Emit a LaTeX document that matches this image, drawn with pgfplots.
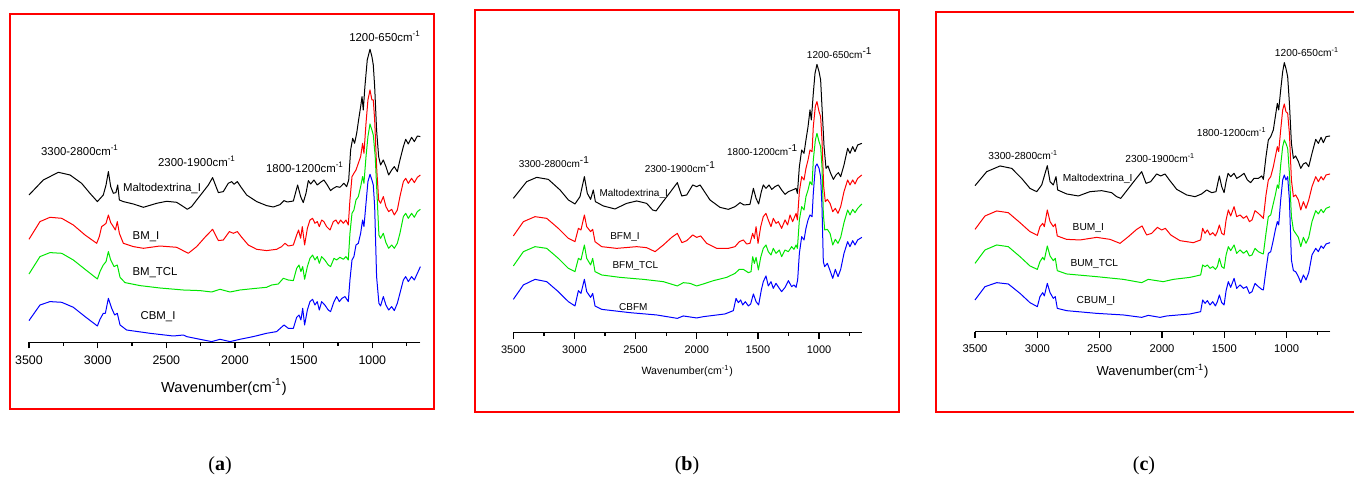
\documentclass[border=0pt]{standalone}
\usepackage{fontspec}
\setmainfont{Liberation Sans}
\newfontfamily\serifx{Liberation Serif}
\usepackage{pgfplots}
\pgfplotsset{compat=1.18}
\usepackage{pgfplotstable}

% ---------- panel (a) ----------
\pgfplotstableread{
x y
3500 147.3
3396 162.3
3286 170.0
3201 167.3
3117 159.0
3056 149.0
3002 140.7
2959 147.3
2939 157.3
2922 170.7
2905 155.7
2886 149.0
2867 149.7
2854 157.3
2842 142.3
2813 140.7
2740 138.3
2667 135.0
2570 139.0
2498 141.0
2425 140.0
2376 135.7
2347 133.0
2316 135.7
2279 142.3
2231 150.7
2194 157.3
2163 164.7
2138 155.7
2121 149.7
2085 150.7
2049 159.0
2024 160.7
2007 158.0
1983 160.7
1959 155.7
1915 147.3
1842 140.7
1770 136.7
1721 135.3
1672 137.7
1643 141.7
1619 140.3
1575 141.3
1544 157.3
1522 145.7
1503 139.7
1483 149.0
1466 161.7
1449 158.3
1425 162.3
1401 157.3
1377 160.0
1353 162.3
1328 157.3
1304 151.7
1284 154.0
1260 155.7
1236 155.0
1207 159.0
1187 155.7
1172 162.3
1158 192.3
1143 204.0
1129 199.0
1114 209.0
1100 222.3
1085 235.7
1075 245.7
1066 232.3
1054 255.7
1037 282.3
1017 293.0
1003 285.7
993 277.3
983 255.7
969 212.3
954 185.7
940 177.3
920 182.3
901 175.7
881 167.3
859 172.3
840 175.7
818 170.7
799 182.3
774 195.7
757 203.0
738 198.3
714 205.0
694 200.7
672 206.3
650 205.7
}\Ma
\pgfplotstableread{
x y
3500 103.0
3420 120.7
3347 125.0
3262 124.0
3177 117.3
3092 107.3
3007 99.0
2988 105.7
2971 115.7
2954 117.3
2939 119.0
2922 127.3
2905 119.7
2886 115.7
2871 112.3
2857 120.7
2842 109.0
2813 99.0
2740 95.7
2667 94.0
2546 96.3
2425 95.0
2340 89.0
2279 95.7
2219 105.0
2163 113.0
2121 101.7
2085 102.3
2041 110.7
2012 109.0
1983 110.7
1951 105.0
1903 97.3
1842 93.0
1770 91.7
1697 93.0
1660 95.7
1636 99.0
1612 96.3
1575 97.3
1551 107.3
1537 112.3
1522 104.0
1510 115.7
1493 97.3
1473 114.0
1454 122.3
1435 124.0
1418 119.0
1401 120.7
1386 115.7
1369 122.3
1353 120.7
1333 115.7
1308 112.3
1284 120.7
1265 122.3
1248 118.3
1231 122.3
1211 119.0
1192 122.3
1175 117.3
1163 142.3
1148 165.7
1134 169.0
1119 172.3
1102 179.0
1085 185.7
1071 199.0
1061 189.0
1046 219.0
1032 242.3
1017 252.3
1003 242.3
993 242.3
983 222.3
969 175.7
954 142.3
940 139.0
920 145.7
901 135.7
881 130.7
859 133.0
840 127.3
818 132.3
799 145.7
774 160.7
757 164.0
738 159.0
714 164.0
694 159.7
672 165.0
650 167.3
}\Ia
\pgfplotstableread{
x y
3500 68.3
3420 85.7
3347 89.7
3262 89.0
3177 82.3
3092 73.0
3002 63.3
2983 70.7
2959 77.3
2939 80.7
2922 90.7
2905 82.3
2881 75.7
2857 77.3
2837 65.0
2801 59.7
2692 56.7
2546 54.3
2376 52.3
2255 51.7
2170 50.3
2109 53.0
2036 50.3
1964 52.3
1867 53.7
1770 55.0
1733 57.3
1685 58.3
1648 64.0
1612 62.3
1575 61.7
1551 74.0
1534 77.3
1520 70.7
1507 75.7
1493 63.0
1473 75.7
1454 84.0
1435 87.3
1418 82.3
1401 85.7
1386 79.0
1369 85.7
1346 82.3
1321 77.3
1304 75.7
1279 84.0
1260 82.3
1236 85.0
1211 83.0
1192 85.7
1175 82.3
1163 109.0
1148 129.0
1134 132.3
1119 142.3
1102 145.7
1085 155.7
1071 165.7
1061 159.0
1046 185.7
1032 205.7
1017 218.3
1003 212.3
993 207.3
979 185.7
964 142.3
952 107.3
940 104.0
920 109.0
901 99.7
881 94.0
859 97.3
840 94.0
818 99.0
799 109.0
774 125.7
757 129.0
738 124.0
714 129.0
694 125.0
672 130.7
650 133.0
}\Ta
\pgfplotstableread{
x y
3500 21.7
3420 37.3
3347 40.7
3262 40.0
3177 35.0
3092 25.7
3002 16.3
2983 23.0
2959 29.0
2944 29.0
2922 44.0
2898 34.0
2876 27.3
2857 29.0
2837 17.3
2789 12.3
2619 9.0
2449 6.3
2376 7.3
2352 5.7
2255 3.0
2170 0.7
2109 3.0
2036 0.7
1964 3.0
1867 5.7
1770 9.0
1697 10.7
1643 17.3
1612 14.0
1575 14.0
1551 25.0
1534 27.3
1520 22.3
1507 34.0
1493 17.3
1473 32.3
1454 40.7
1435 43.0
1418 37.3
1401 40.7
1386 32.3
1369 40.7
1346 37.3
1321 32.3
1304 30.7
1279 40.7
1260 45.7
1240 40.7
1221 44.0
1199 45.7
1175 40.7
1163 62.3
1148 82.3
1134 85.7
1119 97.3
1102 99.0
1085 109.0
1071 122.3
1061 115.7
1046 139.0
1032 160.7
1017 168.0
1003 162.3
993 157.3
983 135.7
969 65.7
952 39.0
940 36.3
920 45.7
901 37.3
881 32.3
859 35.7
840 31.7
818 39.0
799 49.0
774 62.3
757 65.7
738 60.7
714 65.7
694 62.3
672 69.0
650 75.7
}\Ca

% ---------- panel (b) ----------
\pgfplotstableread{
x y
3500 134.3
3391 151.0
3309 155.3
3214 153.3
3118 142.7
3050 132.7
2996 128.7
2955 136.0
2919 156.0
2895 139.3
2868 133.3
2846 142.7
2829 131.0
2764 126.7
2669 123.7
2573 129.3
2491 131.7
2410 129.3
2361 122.7
2333 121.7
2287 129.3
2224 139.3
2159 150.0
2123 136.7
2082 137.7
2033 147.7
2001 146.0
1973 147.7
1946 142.7
1892 132.7
1810 125.3
1742 123.3
1687 126.0
1646 130.0
1614 127.7
1565 128.3
1537 144.3
1515 134.3
1494 128.7
1472 141.0
1456 147.7
1434 144.3
1409 147.7
1387 143.3
1360 146.0
1333 147.7
1306 142.7
1278 138.3
1251 141.0
1216 142.7
1188 144.3
1177 139.3
1161 166.0
1142 182.7
1123 179.3
1107 192.7
1090 206.0
1074 222.7
1063 212.7
1047 239.3
1033 259.3
1017 268.3
1000 261.0
987 252.7
976 226.0
959 186.0
943 164.3
927 166.7
905 159.3
883 153.3
861 157.7
842 160.0
823 156.0
796 167.7
766 184.3
747 179.3
725 186.0
706 181.0
684 187.7
650 189.3
}\Mb
\pgfplotstableread{
x y
3500 96.7
3418 111.0
3323 116.0
3227 114.3
3132 104.3
3050 94.3
2996 91.0
2968 104.3
2947 102.7
2919 117.7
2900 106.0
2868 101.0
2851 103.3
2832 91.0
2778 86.0
2655 84.3
2491 86.0
2410 85.0
2341 81.0
2273 87.7
2205 95.3
2159 99.3
2121 90.0
2082 92.0
2033 97.7
2001 95.3
1968 96.7
1919 89.3
1837 84.3
1742 84.3
1687 86.0
1652 91.0
1619 92.7
1592 88.7
1565 89.3
1543 99.3
1529 94.3
1515 106.0
1499 89.3
1477 106.0
1456 116.0
1434 119.3
1415 112.7
1393 106.0
1374 114.3
1352 109.3
1333 111.0
1306 104.3
1278 112.7
1257 107.7
1237 117.7
1216 111.0
1188 119.3
1177 112.7
1161 141.0
1142 156.0
1123 152.7
1107 164.3
1090 172.7
1074 182.7
1057 181.0
1047 206.0
1030 226.7
1017 231.0
1000 221.0
987 216.0
976 192.7
962 146.0
949 131.0
932 133.3
910 129.3
888 121.0
867 124.3
845 119.3
823 126.0
796 141.0
766 152.7
747 147.7
725 152.7
706 148.7
684 154.3
650 157.7
}\Ib
\pgfplotstableread{
x y
3500 66.7
3418 81.0
3323 86.0
3227 84.3
3132 74.3
3050 64.3
2996 61.0
2968 74.3
2947 72.7
2919 87.7
2900 74.3
2868 67.7
2851 74.3
2832 61.0
2778 57.7
2628 55.3
2437 53.3
2273 51.0
2159 46.7
2110 50.0
2055 49.3
2001 46.7
1946 48.7
1864 52.0
1755 55.3
1687 59.3
1652 63.3
1619 63.3
1578 60.0
1556 61.0
1543 76.0
1529 69.3
1515 75.3
1496 62.7
1477 75.3
1456 84.3
1434 87.7
1415 81.0
1393 77.7
1374 84.3
1352 79.3
1325 82.7
1306 76.0
1278 82.7
1251 81.0
1224 86.0
1205 83.3
1188 87.7
1177 84.3
1161 112.7
1142 126.0
1123 122.7
1107 136.0
1090 142.7
1074 151.0
1057 147.7
1047 172.7
1030 192.7
1017 199.3
1000 191.0
987 186.0
976 166.0
965 119.3
954 102.7
932 103.3
910 99.3
888 87.7
867 93.3
845 89.3
823 95.3
796 110.0
766 122.7
747 117.7
725 123.3
706 120.0
684 124.3
650 128.7
}\Tb
\pgfplotstableread{
x y
3500 33.3
3418 47.7
3323 53.3
3227 51.0
3132 41.0
3050 31.0
2996 26.7
2968 42.0
2947 39.3
2919 53.3
2900 41.0
2868 35.3
2851 39.3
2832 26.7
2778 23.3
2546 20.0
2328 17.7
2159 14.3
2110 16.7
2001 14.7
1946 16.0
1769 18.7
1701 22.0
1679 34.3
1660 30.0
1641 32.7
1624 27.7
1603 31.0
1578 26.7
1559 28.7
1537 38.7
1515 31.0
1494 27.7
1472 42.7
1456 51.0
1434 56.7
1415 46.7
1393 51.0
1374 44.3
1352 49.3
1325 44.3
1306 41.0
1278 45.3
1251 52.0
1224 46.0
1205 47.7
1188 45.3
1175 52.7
1161 79.3
1142 96.0
1123 92.7
1107 104.3
1090 112.7
1074 117.7
1057 116.0
1047 139.3
1030 166.0
1017 168.7
1000 164.3
987 156.0
976 126.0
965 71.0
954 66.0
932 69.3
910 62.0
888 54.3
867 63.3
845 56.0
823 63.3
796 79.3
766 91.0
747 86.0
725 92.0
706 87.7
684 92.7
650 95.3
}\Cb

% ---------- panel (c) ----------
\pgfplotstableread{
x y
3500 146.0
3406 160.0
3299 165.7
3206 163.3
3126 153.3
3059 143.3
3005 140.0
2965 146.7
2920 166.0
2898 150.0
2872 146.7
2850 155.0
2837 141.7
2765 137.7
2671 135.7
2578 140.0
2484 141.0
2404 139.0
2364 135.0
2331 133.3
2283 141.0
2216 151.7
2163 160.0
2128 148.3
2091 150.0
2043 157.7
2011 155.7
1976 157.7
1941 151.7
1882 142.3
1802 136.7
1735 135.0
1682 137.7
1642 141.7
1601 139.0
1567 140.0
1540 155.7
1521 145.0
1502 139.0
1486 150.0
1470 158.3
1449 155.0
1422 158.3
1401 153.3
1369 155.7
1342 158.3
1315 151.7
1289 149.0
1262 153.3
1227 153.3
1200 155.7
1187 152.3
1166 175.0
1147 191.7
1128 195.0
1107 201.7
1091 215.0
1075 228.3
1064 221.7
1048 241.7
1032 260.0
1019 269.0
1006 263.3
992 255.0
978 228.3
962 188.3
946 173.3
928 175.7
906 170.0
887 163.3
866 167.7
845 169.0
823 165.0
797 178.3
767 192.3
746 188.3
724 194.3
706 189.0
684 195.0
652 195.7
}\Mc
\pgfplotstableread{
x y
3500 102.3
3420 115.7
3326 120.7
3233 119.0
3139 109.0
3059 100.0
3000 96.3
2979 105.0
2957 108.3
2944 105.0
2920 121.7
2898 110.0
2872 105.0
2856 107.7
2840 95.7
2765 92.3
2658 91.7
2524 94.3
2417 92.3
2337 88.3
2270 95.0
2203 102.3
2160 105.7
2123 96.7
2083 98.3
2037 104.3
2003 101.7
1973 103.3
1930 96.7
1856 91.0
1749 89.0
1690 91.7
1674 103.3
1655 98.3
1636 101.7
1615 96.7
1593 99.0
1572 95.7
1556 100.0
1540 106.7
1521 98.3
1502 96.7
1486 111.7
1468 121.7
1449 115.7
1422 125.0
1401 115.0
1374 116.7
1347 113.3
1321 115.7
1299 110.0
1278 111.7
1254 121.0
1227 118.3
1200 115.0
1187 113.3
1166 136.7
1147 151.7
1128 155.0
1107 165.0
1091 175.0
1075 185.0
1064 180.0
1048 201.7
1032 221.7
1019 227.7
1006 220.0
992 218.3
978 198.3
962 151.7
946 135.0
928 136.7
906 131.7
887 121.7
866 130.0
845 123.3
823 131.7
797 145.0
767 155.0
746 150.0
724 155.0
706 151.7
684 156.7
652 157.7
}\Ic
\pgfplotstableread{
x y
3500 68.3
3420 81.7
3326 86.7
3233 85.0
3139 75.0
3059 65.7
3000 62.3
2979 70.0
2957 74.3
2944 71.7
2920 85.7
2898 75.7
2872 71.0
2856 73.3
2840 61.0
2765 57.7
2524 55.0
2310 52.3
2163 49.0
2110 52.3
2043 51.0
1990 50.0
1909 52.3
1775 54.3
1690 56.7
1674 66.7
1655 65.0
1636 66.7
1615 63.3
1593 65.0
1572 62.3
1556 65.0
1540 73.3
1521 65.0
1502 63.3
1486 76.7
1468 85.0
1449 81.0
1422 86.7
1401 78.3
1374 81.7
1347 78.3
1321 81.0
1299 75.7
1278 76.7
1254 83.3
1227 80.0
1200 78.3
1187 77.7
1166 98.3
1147 115.0
1128 116.7
1107 128.3
1091 136.7
1075 146.7
1064 143.3
1048 166.7
1032 185.0
1019 191.7
1006 188.3
992 183.3
978 158.3
962 115.0
946 101.7
928 98.3
906 94.3
887 85.0
866 94.3
845 88.3
823 94.3
797 110.0
767 121.0
746 117.7
724 122.3
706 119.0
684 123.3
652 125.0
}\Tc
\pgfplotstableread{
x y
3500 31.7
3420 45.0
3326 49.0
3233 47.7
3139 38.3
3059 29.0
3000 25.0
2979 35.0
2957 39.0
2944 35.7
2920 48.3
2898 39.0
2872 33.3
2856 35.0
2840 23.3
2765 21.0
2524 18.3
2310 16.7
2163 14.3
2110 16.3
2016 14.3
1962 15.7
1775 17.7
1690 20.0
1674 31.7
1655 28.3
1636 31.0
1615 26.7
1593 30.0
1572 25.7
1556 30.0
1540 36.7
1521 29.0
1502 26.7
1486 41.0
1468 50.0
1449 44.3
1422 53.3
1401 43.3
1374 46.7
1347 43.3
1321 45.0
1299 38.3
1278 40.0
1254 48.3
1227 45.0
1200 42.3
1187 41.7
1166 61.7
1147 78.3
1128 80.0
1107 91.7
1091 101.7
1075 110.0
1064 106.7
1048 131.7
1032 151.7
1019 156.7
1006 151.7
992 155.0
978 131.7
962 71.7
946 61.0
928 60.0
906 55.0
887 49.0
866 56.7
845 51.7
823 59.0
797 76.7
767 83.3
746 80.0
724 85.7
706 83.3
684 87.7
652 89.0
}\Cc

\definecolor{sgreen}{RGB}{0,230,0}
\pgfplotsset{spec/.style={
  scale only axis, anchor=south west, clip=false,
  x dir=reverse, xmin=650, xmax=3500, ymin=0, ymax=300, height=150pt,
  axis x line*=bottom, axis y line=none,
  x axis line style={-, line width=0.7pt},
  xtick={1000,1500,2000,2500,3000,3500},
  minor xtick={750,1250,1750,2250,2750,3250},
  tick align=outside, major tick length=3pt, minor tick length=1.6pt,
  tick style={black, line width=0.6pt},
  /pgf/number format/assume math mode=true,
  /pgf/number format/1000 sep={},
  every axis plot/.append style={line width=0.5pt, line join=round, no markers},
}}

\begin{document}
\begin{tikzpicture}
\useasboundingbox (0,0) rectangle (677pt,238.5pt);

\begin{axis}[spec, at={(14.5pt,67.35pt)}, width=195.7pt,
  xticklabel style={font=\fontsize{6.2}{7}\selectfont}]
\addplot[black] table {\Ma};
\addplot[red] table {\Ia};
\addplot[sgreen] table {\Ta};
\addplot[blue] table {\Ca};
\end{axis}

\begin{axis}[spec, at={(256.67pt,72.17pt)}, width=174.25pt,
  xticklabel style={font=\fontsize{5.5}{6}\selectfont}]
\addplot[black] table {\Mb};
\addplot[red] table {\Ib};
\addplot[sgreen] table {\Tb};
\addplot[blue] table {\Cb};
\end{axis}

\begin{axis}[spec, at={(487.5pt,72.67pt)}, width=177.65pt,
  xticklabel style={font=\fontsize{5.6}{6}\selectfont}]
\addplot[black] table {\Mc};
\addplot[red] table {\Ic};
\addplot[sgreen] table {\Tc};
\addplot[blue] table {\Cc};
\end{axis}

\begin{scope}[x=0.5pt, y=-0.5pt, yshift=238.5pt]
% frames
\draw[red, line width=1pt] (10,14) rectangle (434,409);
\draw[red, line width=1pt] (475,10) rectangle (899,412);
\draw[red, line width=1pt] (936,12.5) rectangle (1362,412);
% panel (a) text
\begin{scope}[every node/.style={font=\fontsize{5.7}{6}\selectfont, inner sep=0pt}]
\node at (80,150.7) {3300-2800cm\textsuperscript{-1}};
\node at (197,161) {2300-1900cm\textsuperscript{-1}};
\node at (305,167) {1800-1200cm\textsuperscript{-1}};
\node at (385,36.7) {1200-650cm\textsuperscript{-1}};
\node at (162,189) {Maltodextrina\_I};
\node at (146,237) {BM\_I};
\node at (155,273) {BM\_TCL};
\node at (158,317) {CBM\_I};
\end{scope}
\node[font=\fontsize{7.3}{8}\selectfont, inner sep=0pt] at (224,387) {Wavenumber(cm\textsuperscript{-1})};
% panel (b) text
\begin{scope}[every node/.style={font=\fontsize{5.0}{6}\selectfont, inner sep=0pt}]
\node at (554.3,162.3) {3300-2800cm\textsuperscript{-1}};
\node at (680.3,166.7) {2300-1900cm\textsuperscript{-1}};
\node at (762.7,150) {1800-1200cm\textsuperscript{-1}};
\node at (839.7,53.3) {1200-650cm\textsuperscript{-1}};
\node at (633.7,194) {Maltodextrina\_I};
\node at (625,237.3) {BFM\_I};
\node at (635.3,266) {BFM\_TCL};
\node at (633.3,307.3) {CBFM};
\end{scope}
\node[font=\fontsize{5.3}{6}\selectfont, inner sep=0pt] at (687.3,371) {Wavenumber(cm\textsuperscript{-1})};
% panel (c) text
\begin{scope}[every node/.style={font=\fontsize{5.1}{6}\selectfont, inner sep=0pt}]
\node at (1023.3,155) {3300-2800cm\textsuperscript{-1}};
\node at (1160.3,157.7) {2300-1900cm\textsuperscript{-1}};
\node at (1231.7,131.7) {1800-1200cm\textsuperscript{-1}};
\node at (1307,51.7) {1200-650cm\textsuperscript{-1}};
\node at (1097.7,179.3) {Maltodextrina\_I};
\node at (1088.3,228) {BUM\_I};
\node at (1094.3,264) {BUM\_TCL};
\node at (1096,301) {CBUM\_I};
\end{scope}
\node[font=\fontsize{6.5}{7}\selectfont, inner sep=0pt] at (1152.5,371) {Wavenumber(cm\textsuperscript{-1})};
% sub-figure letters
\begin{scope}[every node/.style={font=\serifx\fontsize{10}{11}\selectfont, inner sep=0pt}]
\node at (220,466) {(\textbf{a})};
\node at (687,466) {(\textbf{b})};
\node at (1144,466) {(\textbf{c})};
\end{scope}
\end{scope}
\end{tikzpicture}
\end{document}
